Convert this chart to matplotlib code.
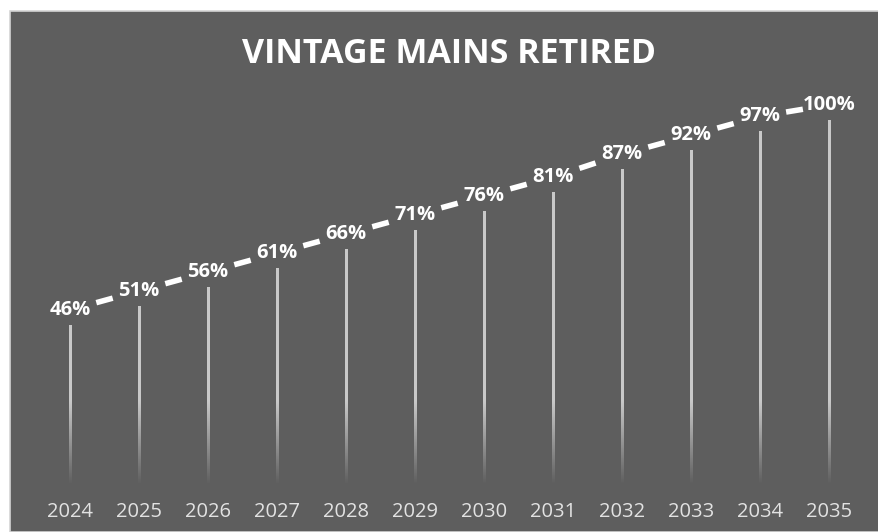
import numpy as np
import matplotlib
matplotlib.use("Agg")
import matplotlib.pyplot as plt
from matplotlib import transforms
from matplotlib.patches import Rectangle

years = ["2024", "2025", "2026", "2027", "2028", "2029", "2030", "2031", "2032", "2033", "2034", "2035"]
values = [46, 51, 56, 61, 66, 71, 76, 81, 87, 92, 97, 100]
labels = ["46%", "51%", "56%", "61%", "66%", "71%", "76%", "81%", "87%", "92%", "97%", "100%"]
title = "VINTAGE MAINS RETIRED"

plt.rcParams["lines.scale_dashes"] = False

BG = "#5E5E5E"
W, H = 879, 532
fig = plt.figure(figsize=(W / 100, H / 100), dpi=100)
fig.patch.set_facecolor("white")

# chart area with light border
fig.patches.append(Rectangle((9.5 / W, 0), 1.0, 1 - 10.5 / H, transform=fig.transFigure,
                             facecolor=BG, edgecolor="#D4D4D4", linewidth=1.2, zorder=-5))

x0_px, x1_px = 35.5, 863.5
y0_px, top_px = 500, 82.5
ax = fig.add_axes([x0_px / W, (H - y0_px) / H, (x1_px - x0_px) / W, (y0_px - top_px) / H])
ax.set_zorder(2)
ax.set_facecolor("none")
ax.set_xlim(-0.5, len(years) - 0.5)
ax.set_ylim(0, 110)

x = np.arange(len(years))
bw = 0.034
for xi, v in zip(x, values):
    n = 300
    yy = np.linspace(0, v, n)
    alpha = np.clip((yy - 4.0) / 22.0, 0, 1) * 0.85
    rgba = np.zeros((n, 1, 4))
    rgba[..., :3] = 0.87
    rgba[:, 0, 3] = alpha
    ax.imshow(rgba, extent=[xi - bw / 2, xi + bw / 2, 0, v], origin="lower",
              aspect="auto", interpolation="bilinear", zorder=2)

off = transforms.offset_copy(ax.transData, fig=fig, x=0, y=15.5, units="dots")
fig.canvas.draw()
px = 72.0 / fig.dpi  # points per pixel
dash_px = 17.0
for i in range(len(x) - 1):
    p0 = off.transform((x[i], values[i]))
    p1 = off.transform((x[i + 1], values[i + 1]))
    seg = np.hypot(*(p1 - p0))
    gap0 = (seg - dash_px) / 2
    offpts = 300.0
    on = dash_px * px
    offset = on + offpts - gap0 * px
    ax.plot(x[i:i + 2], values[i:i + 2], color="white", lw=4.0, transform=off, zorder=3,
            linestyle=(offset, (on, offpts)), dash_capstyle="butt")

for xi, v, lab in zip(x, values, labels):
    ax.text(xi, v, lab, transform=off, ha="center", va="center", fontsize=14.5,
            fontweight="bold", color="white", family="Open Sans", zorder=4)

ax.set_xticks(x)
ax.set_xticklabels(years, fontsize=14.5, color="#E2E2E2", family="Open Sans")
ax.tick_params(axis="x", length=0, pad=1.5)
ax.set_yticks([])
for s in ax.spines.values():
    s.set_visible(False)

fig.text(449 / W, 1 - 63 / H, title, ha="center", va="baseline", fontsize=24.5,
         fontweight="bold", color="white", family="Open Sans", zorder=3)

fig.savefig("out.png", dpi=100, facecolor=fig.get_facecolor())
